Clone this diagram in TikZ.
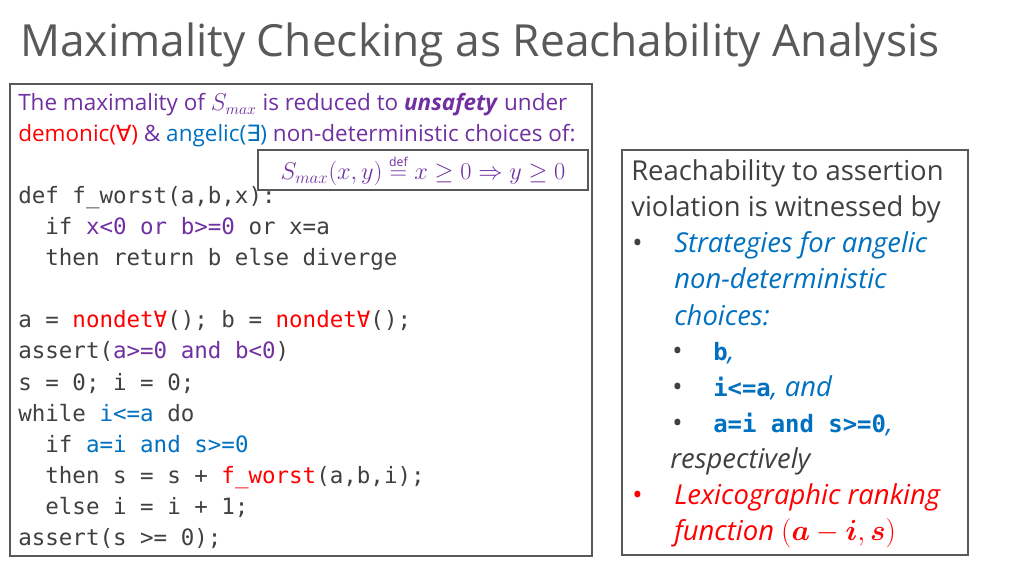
\documentclass[tikz,border=0pt]{standalone}
\usepackage{amsmath,amssymb}
\usepackage{fontspec}
\setmainfont{Open Sans}
\setmonofont{DejaVu Sans Mono}
\newfontfamily\symf{DejaVu Sans}
\definecolor{pur}{HTML}{7030A0}
\definecolor{rd}{HTML}{FF0000}
\definecolor{bl}{HTML}{0070C0}
\definecolor{cd}{HTML}{404040}
\definecolor{tg}{HTML}{595959}
\begin{document}
\begin{tikzpicture}[x=0.025cm,y=-0.025cm,
  ln/.style={anchor=base west,inner sep=0pt},
  code/.style={ln,font=\ttfamily\fontsize{16}{16}\selectfont,text=cd},
  txt/.style={ln,font=\fontsize{16}{16}\selectfont},
  rt/.style={ln,font=\fontsize{19.5}{19.5}\selectfont,text=cd},
  frame/.style={draw=tg,line width=0.8pt}]
\useasboundingbox (0,0) rectangle (1024,576);
\node[ln,font=\fontsize{31.5}{31.5}\selectfont,text=tg] (title) at (20,57) {Maximality Checking as Reachability Analysis};
\draw[frame] (10,84) rectangle (592,556);
\node[txt,text=pur] (t1) at (18,111) {The maximality of $S_{max}$ is reduced to \textbf{\textit{unsafety}} under};
\node[txt,text=pur] (t2) at (18,142) {\textcolor{rd}{demonic({\symf ∀})} \& \textcolor{bl}{angelic({\symf ∃})} non-deterministic choices of:};
\node[draw=tg,line width=0.8pt,fill=white,text=pur,inner sep=3pt,minimum width=330*0.025cm,minimum height=36*0.025cm,font=\fontsize{17.5}{17.5}\selectfont] (sm) at (423,170) {$S_{max}(x,y)\mathrel{\stackrel{\scriptscriptstyle\mathrm{def}}{=}}x\geq 0\Rightarrow y\geq 0$};
\node[code] (c1) at (18,204) {def f\_worst(a,b,x):};
\node[code] (c2) at (18,235) {\ \ if \textcolor{pur}{x<0 or b>=0} or x=a};
\node[code] (c3) at (18,266) {\ \ then return b else diverge};
\node[code] (c4) at (18,328) {a = \textcolor{rd}{nondet∀}(); b = \textcolor{rd}{nondet∀}();};
\node[code] (c5) at (18,359) {assert(\textcolor{pur}{a>=0 and b<0})};
\node[code] (c6) at (18,390) {s = 0; i = 0;};
\node[code] (c7) at (18,421) {while \textcolor{bl}{i<=a} do};
\node[code] (c8) at (18,452) {\ \ if \textcolor{bl}{a=i and s>=0}};
\node[code] (c9) at (18,483) {\ \ then s = s + \textcolor{rd}{f\_worst}(a,b,i);};
\node[code] (c10) at (18,514) {\ \ else i = i + 1;};
\node[code] (c11) at (18,545) {assert(s >= 0);};
\draw[frame] (622,150) rectangle (968,555);
\node[rt] (r1) at (631,181) {Reachability to assertion};
\node[rt] (r2) at (631,217) {violation is witnessed by};
\node[rt] (b1) at (632,253) {•};
\node[rt,text=bl] (r3) at (674,253) {\itshape Strategies for angelic};
\node[rt,text=bl] (r4) at (674,289) {\itshape non-deterministic};
\node[rt,text=bl] (r5) at (674,325) {\itshape choices:};
\node[rt] (b2) at (672,360) {•};
\node[rt,text=bl] (r6) at (713,360) {\ttfamily\bfseries\fontsize{17}{17}\selectfont b\rmfamily\mdseries\itshape\fontsize{19.5}{19.5}\selectfont,};
\node[rt] (b3) at (672,396) {•};
\node[rt,text=bl] (r7) at (713,396) {\ttfamily\bfseries\fontsize{17}{17}\selectfont i<=a\rmfamily\mdseries\itshape\fontsize{19.5}{19.5}\selectfont, and};
\node[rt] (b4) at (672,432) {•};
\node[rt,text=bl] (r8) at (713,432) {\ttfamily\bfseries\fontsize{17}{17}\selectfont a=i and s>=0\rmfamily\mdseries\itshape\fontsize{19.5}{19.5}\selectfont,};
\node[rt] (r9) at (670,468) {\itshape respectively};
\node[rt,text=rd] (b5) at (632,504) {•};
\node[rt,text=rd] (r10) at (674,504) {\itshape Lexicographic ranking};
\node[rt,text=rd] (r11) at (674,540) {\itshape function $(\boldsymbol{a}-\boldsymbol{i},\boldsymbol{s})$};
\end{tikzpicture}
\end{document}
